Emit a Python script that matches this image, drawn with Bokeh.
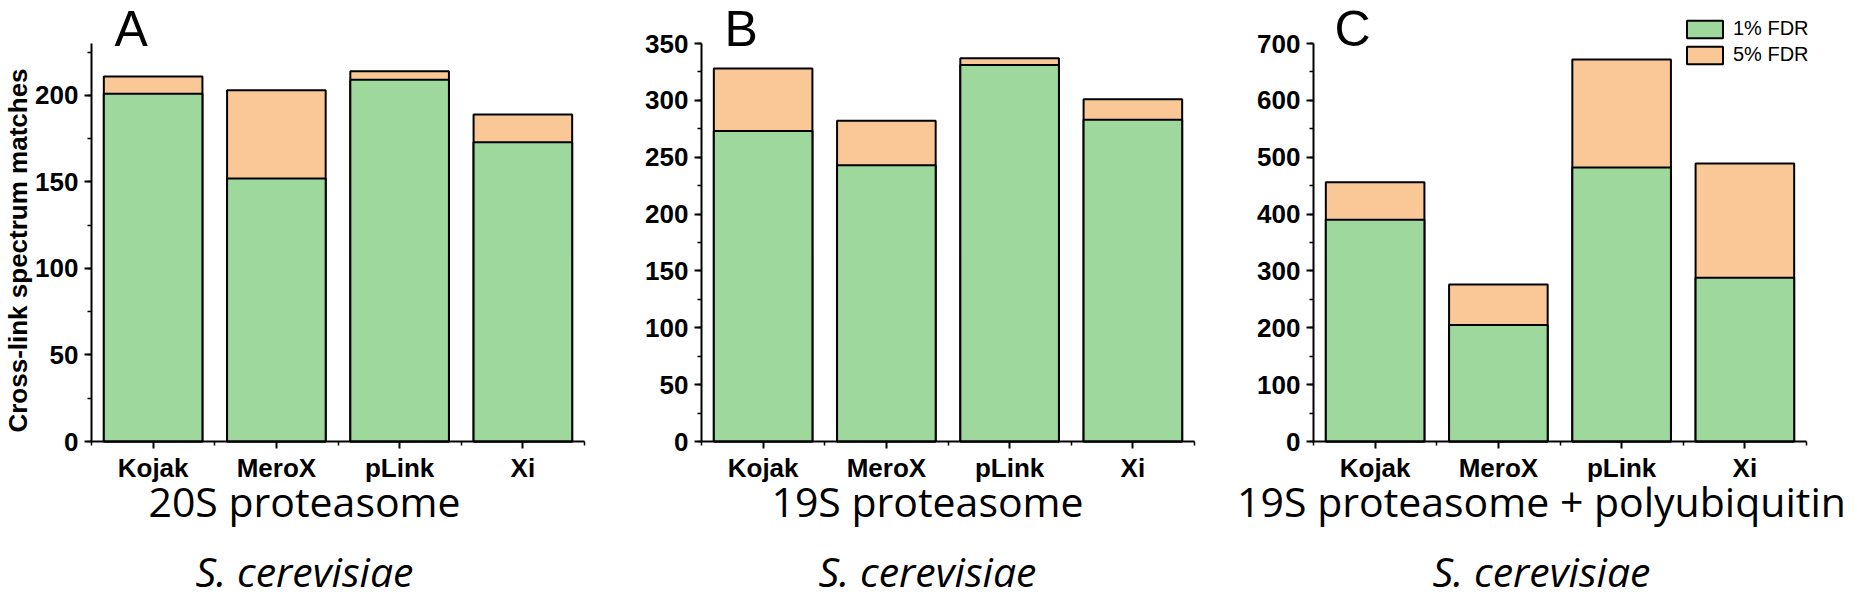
from math import pi
from bokeh.plotting import figure
from bokeh.layouts import row
from bokeh.models import Range1d, FixedTicker, SingleIntervalTicker, Label, Legend, LegendItem
from bokeh.embed import file_html
from bokeh.resources import INLINE

# ---- data ----
tools = ["Kojak", "MeroX", "pLink", "Xi"]

psm_20s_1fdr = [201, 152, 209, 173]
psm_20s_5fdr = [211, 203, 214, 189]

psm_19s_1fdr = [273, 243, 331, 283]
psm_19s_5fdr = [328, 282, 337, 301]

psm_19s_ub_1fdr = [390, 205, 482, 288]
psm_19s_ub_5fdr = [456, 276, 672, 489]

panel_letters = ["A", "B", "C"]
panel_titles = ["20S proteasome", "19S proteasome", "19S proteasome + polyubiquitin"]
organism = "S. cerevisiae"
y_max = [230, 350, 700]
y_major = [50, 50, 100]
y_label = "Cross-link spectrum matches"
legend_labels = ["1% FDR", "5% FDR"]

GREEN = "#9ED89C"
ORANGE = "#FAC897"
TICK_FONT = "Liberation Sans"
TITLE_FONT = "Open Sans"

# ---- layout (pixels) ----
FIG_H = 603
FIG_W = [619, 611, 626]
PLOT_LEFT = [91, 82, 83]      # plot-area left edge inside each figure
PLOT_W = 493                  # plot-area width
ZERO_FROM_BOTTOM = 162        # y=0 line, measured from canvas bottom
PLOT_H = 398                  # plot-area height
LETTER_X = [114, 105, 104]
TITLE_X = [304, 308, 311]


def make_panel(idx, v1, v5, show_ylabel=False, show_legend=False):
    n = len(tools)
    W = FIG_W[idx]
    ppx = PLOT_W / n
    ppy = PLOT_H / y_max[idx]
    x_rng = Range1d(-PLOT_LEFT[idx] / ppx, n + (W - PLOT_LEFT[idx] - PLOT_W) / ppx)
    y_rng = Range1d(-ZERO_FROM_BOTTOM / ppy,
                    y_max[idx] + (FIG_H - ZERO_FROM_BOTTOM - PLOT_H) / ppy)
    p = figure(width=W, height=FIG_H, x_range=x_rng, y_range=y_rng, title=None,
               output_backend="svg", toolbar_location=None,
               min_border=0, min_border_left=0, min_border_right=0,
               min_border_top=0, min_border_bottom=0)
    p.outline_line_color = None
    p.xgrid.visible = False
    p.ygrid.visible = False
    p.background_fill_color = "white"
    p.border_fill_color = "white"

    xs = [i + 0.5 for i in range(n)]
    r5 = p.vbar(x=xs, top=v5, bottom=0, width=0.8, fill_color=ORANGE,
                line_color="black", line_width=2)
    r1 = p.vbar(x=xs, top=v1, bottom=0, width=0.8, fill_color=GREEN,
                line_color="black", line_width=2)

    # axes (kept in their side panels, drawn at data 0)
    p.xaxis.fixed_location = 0
    p.yaxis.fixed_location = 0
    p.xaxis.bounds = (0, n)
    p.yaxis.bounds = (0, y_max[idx])
    p.xaxis.ticker = FixedTicker(ticks=xs, minor_ticks=list(range(n + 1)))
    p.xaxis.major_label_overrides = {x: t for x, t in zip(xs, tools)}
    p.yaxis.ticker = SingleIntervalTicker(interval=y_major[idx], num_minor_ticks=2)
    for ax in (p.xaxis, p.yaxis):
        ax.axis_line_color = "black"
        ax.axis_line_width = 2
        ax.major_tick_line_color = "black"
        ax.major_tick_line_width = 2
        ax.minor_tick_line_color = "black"
        ax.minor_tick_line_width = 1.5
        ax.major_tick_in = 0
        ax.major_tick_out = 7
        ax.minor_tick_in = 0
        ax.minor_tick_out = 4
        ax.major_label_text_font = TICK_FONT
        ax.major_label_text_font_style = "bold"
        ax.major_label_text_font_size = "26px"
        ax.major_label_text_color = "black"
    p.xaxis.major_label_standoff = 4
    p.yaxis.major_label_standoff = 6

    # panel letter
    p.add_layout(Label(x=LETTER_X[idx], y=575, x_units="screen", y_units="screen",
                       text=panel_letters[idx], text_font=TICK_FONT,
                       text_font_size="50px", text_color="black",
                       text_baseline="alphabetic", text_align="left"))
    # titles below
    p.add_layout(Label(x=TITLE_X[idx], y=103, x_units="screen", y_units="screen",
                       text=panel_titles[idx], text_font=TITLE_FONT,
                       text_font_size="41px", text_color="black",
                       text_baseline="alphabetic", text_align="center"))
    p.add_layout(Label(x=TITLE_X[idx], y=33, x_units="screen", y_units="screen",
                       text=organism, text_font=TITLE_FONT, text_font_style="italic",
                       text_font_size="41px", text_color="black",
                       text_baseline="alphabetic", text_align="center"))

    if show_ylabel:
        p.add_layout(Label(x=17, y=353, x_units="screen", y_units="screen",
                           text=y_label, angle=pi / 2, text_font=TICK_FONT,
                           text_font_style="bold", text_font_size="26px",
                           text_color="black", text_align="center",
                           text_baseline="middle"))

    if show_legend:
        legend = Legend(items=[LegendItem(label=legend_labels[0], renderers=[r1]),
                               LegendItem(label=legend_labels[1], renderers=[r5])],
                        location=(452, 537), orientation="vertical",
                        glyph_width=45, glyph_height=22, label_height=22,
                        spacing=3, padding=0, margin=0, label_standoff=6,
                        label_text_font=TICK_FONT, label_text_font_size="20px",
                        label_text_color="black",
                        border_line_color=None, background_fill_alpha=0)
        p.add_layout(legend)
    return p


pA = make_panel(0, psm_20s_1fdr, psm_20s_5fdr, show_ylabel=True)
pB = make_panel(1, psm_19s_1fdr, psm_19s_5fdr)
pC = make_panel(2, psm_19s_ub_1fdr, psm_19s_ub_5fdr, show_legend=True)

layout = row(pA, pB, pC)
open("out.html", "w").write(file_html(layout, INLINE))
